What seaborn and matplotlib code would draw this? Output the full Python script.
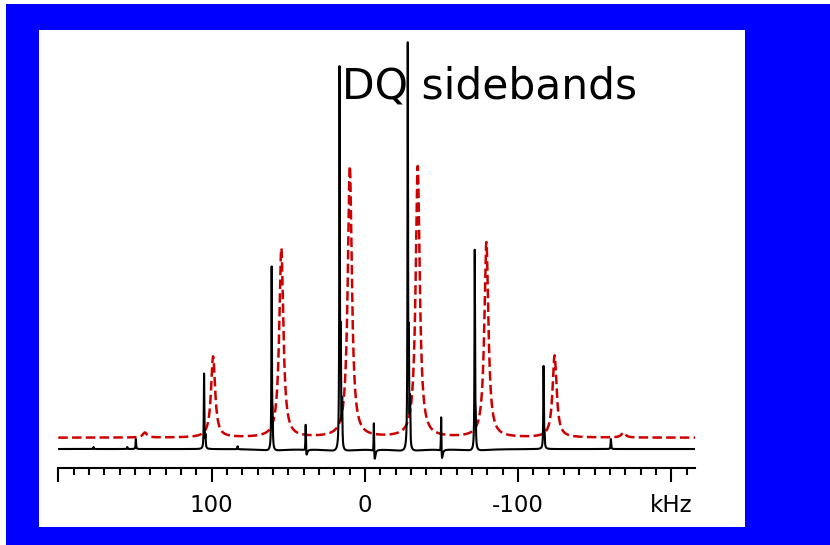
import numpy as np
import seaborn as sns
import matplotlib.pyplot as plt
from matplotlib.patches import Rectangle
from matplotlib.ticker import MultipleLocator

sns.set_style('ticks')
plt.rcParams['font.family'] = ['DejaVu Sans']

# experimental (black) spectrum: sharp sideband lines, kHz / intensity
black_pos = [177.0, 155.0, 149.4, 104.9, 104.0, 83.0, 60.8, 60.2, 16.5, 15.7, 14.8,
             -28.0, -28.7, -29.5, -71.7, -72.3, -116.6, -117.2, -160.5]
black_amp = [2, 2, 10, 75, 12, 3, 182, 27, 382, 106, 45,
             402, 96, 45, 199, 26, 82, 12, 10]
# small dispersive lines (up spike + dip)
disp_pos = [38.6, -5.9, -49.8]
disp_up = [31, 36, 42]
disp_dip = [-9, -14, -14]
# slow baseline dips around the big lines
dip_pos = [60.8, 16.5, -28.0, -71.7]
dip_amp = [-2, -3, -3, -2]

# simulated (red dashed) spectrum
red_pos = [143.5, 99.0, 54.5, 9.8, -34.5, -79.3, -123.8, -168.7]
red_amp = [5, 81, 189, 271, 271, 195, 82, 5]
red_offset = 11.3

khz = np.linspace(200, -215.4, 12000)


def lor(x, x0, h, g):
    return h * g ** 2 / ((x - x0) ** 2 + g ** 2)


black = np.zeros_like(khz)
for p, a in zip(black_pos, black_amp):
    black += lor(khz, p, a, 0.2)
for p, u, d in zip(disp_pos, disp_up, disp_dip):
    black += lor(khz, p, u, 0.2) + lor(khz, p - 0.4, d, 0.6)
for p, a in zip(dip_pos, dip_amp):
    black += lor(khz, p, a, 8.0)

red = np.full_like(khz, red_offset)
for p, a in zip(red_pos, red_amp):
    red += lor(khz, p, a, 1.6)

fig = plt.figure(figsize=(8.3, 5.45), dpi=100)
W, H = 830, 545
fig.patches.append(Rectangle((6 / W, 0), 1 - 6 / W, 1 - 4 / H, transform=fig.transFigure,
                             facecolor='#0000ff', edgecolor='none', zorder=-2))
fig.patches.append(Rectangle((39 / W, (H - 527) / H), (745 - 39) / W, (527 - 30) / H,
                             transform=fig.transFigure, facecolor='white', edgecolor='none', zorder=-1))

ax = fig.add_axes([58.3 / W, (H - 467.7) / H, (695 - 58.3) / W, 437.7 / H])
ax.patch.set_alpha(0)

sns.lineplot(x=khz, y=red, color='#cc0000', linewidth=1.8, linestyle=(0, (3.8, 1.7)),
             estimator=None, sort=False, ax=ax)
sns.lineplot(x=khz, y=black, color='black', linewidth=1.5,
             estimator=None, sort=False, ax=ax)

ax.set_xlim(200, -215.4)
ax.set_ylim(-18.7, 419)
ax.set_yticks([])
for s in ['left', 'top', 'right']:
    ax.spines[s].set_visible(False)
ax.spines['bottom'].set_linewidth(1.5)
ax.spines['bottom'].set_color('black')
ax.set_xticks([200, 100, 0, -100, -200], labels=['', '100', '0', '-100', 'kHz'])
ax.xaxis.set_minor_locator(MultipleLocator(10))
ax.tick_params(axis='x', which='major', length=10, width=1.5, direction='out', labelsize=16.5,
               pad=9, color='black', labelcolor='black')
ax.tick_params(axis='x', which='minor', length=5, width=1.5, direction='out', color='black')

fig.text(342 / W, (H - 98) / H, 'DQ sidebands', fontsize=30.5, va='baseline', color='black')

fig.savefig('out.png', dpi=100)
